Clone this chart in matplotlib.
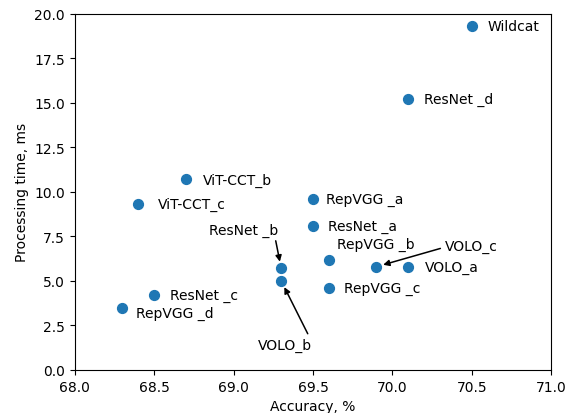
import matplotlib.pyplot as plt

# Model names, accuracy (%) and processing time (ms)
names = ["Wildcat", "ResNet _d", "ViT-CCT_b", "ViT-CCT_c", "RepVGG _a", "ResNet _a",
         "RepVGG _b", "VOLO_c", "VOLO_a", "ResNet _b", "VOLO_b", "RepVGG _c",
         "ResNet _c", "RepVGG _d"]
accuracy = [70.5, 70.1, 68.7, 68.4, 69.5, 69.5, 69.6, 69.9, 70.1, 69.3, 69.3, 69.6, 68.5, 68.3]
proc_time = [19.3, 15.2, 10.7, 9.3, 9.6, 8.1, 6.2, 5.8, 5.8, 5.7, 5.0, 4.6, 4.2, 3.5]

# label offsets in points (dx, dy); None -> drawn with arrow below
offsets = {
    "Wildcat": (11.5, 0), "ResNet _d": (11, 0), "ViT-CCT_b": (12, 0),
    "ViT-CCT_c": (14, 0), "RepVGG _a": (9.5, 0), "ResNet _a": (11, 0),
    "RepVGG _b": (6, 11), "VOLO_a": (12, 0), "RepVGG _c": (11, 0),
    "ResNet _c": (11, 0), "RepVGG _d": (9.5, -3.5),
}

fig, ax = plt.subplots(figsize=(5.67, 4.14), dpi=100)
fig.subplots_adjust(left=0.132, right=0.972, top=0.964, bottom=0.104)

ax.scatter(accuracy, proc_time, s=50, color="#1f77b4", zorder=3)

arrow = dict(arrowstyle="-|>", color="k", lw=1.1, mutation_scale=9, shrinkA=1, shrinkB=5)
for n, x, y in zip(names, accuracy, proc_time):
    if n in offsets:
        ax.annotate(n, (x, y), xytext=offsets[n], textcoords="offset points",
                    ha="left", va="center", fontsize=10)
    elif n == "ResNet _b":
        ax.annotate(n, (x, y), xytext=(-27, 28), textcoords="offset points",
                    ha="center", va="center", fontsize=10,
                    arrowprops=dict(arrow, relpos=(0.95, 0)))
    elif n == "VOLO_b":
        ax.annotate(n, (x, y), xytext=(3, -46), textcoords="offset points",
                    ha="center", va="center", fontsize=10,
                    arrowprops=dict(arrow, relpos=(0.95, 1)))
    elif n == "VOLO_c":
        ax.annotate(n, (x, y), xytext=(68, 15), textcoords="offset points",
                    ha="center", va="center", fontsize=10,
                    arrowprops=dict(arrow, relpos=(0, 0.4)))

ax.set_xlim(68, 71)
ax.set_ylim(0, 20)
ax.set_xticks([68.0, 68.5, 69.0, 69.5, 70.0, 70.5, 71.0])
ax.set_yticks([0, 2.5, 5, 7.5, 10, 12.5, 15, 17.5, 20])
ax.set_xticklabels(["68.0", "68.5", "69.0", "69.5", "70.0", "70.5", "71.0"])
ax.set_yticklabels(["0.0", "2.5", "5.0", "7.5", "10.0", "12.5", "15.0", "17.5", "20.0"])
ax.set_xlabel("Accuracy, %")
ax.set_ylabel("Processing time, ms")

fig.savefig("out.png", dpi=100)
